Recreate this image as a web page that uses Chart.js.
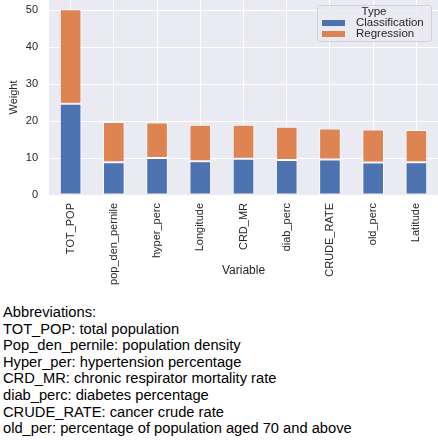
<!DOCTYPE html>
<html lang="en">
<head>
    <meta charset="UTF-8">
    <title>Variable weights</title>
    <style>
        body { margin: 0; background: #fff; }
        #wrap { position: relative; width: 438px; height: 440px; }
        #notes {
            position: absolute; left: 3px; top: 304px;
            font-family: 'Liberation Sans', Arial, sans-serif;
            font-size: 14.7px; line-height: 16.6px; color: #000;
        }
    </style>
</head>
<body>
<div id="wrap">
    <canvas id="myChart" width="438" height="285"></canvas>
    <div id="notes">
        Abbreviations:<br>
        TOT_POP: total population<br>
        Pop_den_pernile: population density<br>
        Hyper_per: hypertension percentage<br>
        CRD_MR: chronic respirator mortality rate<br>
        diab_perc: diabetes percentage<br>
        CRUDE_RATE: cancer crude rate<br>
        old_per: percentage of population aged 70 and above
    </div>
</div>

<script src="https://cdn.jsdelivr.net/npm/chart.js"></script>
<script>
    // data
    const variables = ['TOT_POP', 'pop_den_pernile', 'hyper_perc', 'Longitude', 'CRD_MR', 'diab_perc', 'CRUDE_RATE', 'old_perc', 'Latitude'];
    const classification = [24.7, 8.9, 10.05, 9.15, 9.8, 9.5, 9.6, 8.8, 8.9];
    const regression = [25.6, 10.85, 9.6, 9.85, 9.2, 9.0, 8.4, 8.95, 8.7];
    const yTicks = [0, 10, 20, 30, 40, 50];

    const narrow = "'Liberation Sans Narrow', 'Liberation Sans', Arial, sans-serif";
    const sans = "'Liberation Sans', Arial, sans-serif";

    // grey plot background (seaborn darkgrid look)
    const plotBg = {
        id: 'plotBg',
        beforeDraw(chart) {
            const {ctx, chartArea: a} = chart;
            ctx.save();
            ctx.fillStyle = '#EAEAF2';
            ctx.fillRect(a.left, a.top, a.right - a.left, a.bottom - a.top);
            ctx.restore();
        }
    };

    // legend box in the top-right corner with a "Type" title
    const typeLegend = {
        id: 'typeLegend',
        afterDraw(chart) {
            const ctx = chart.ctx;
            const x = 317, y = 5, w = 114, h = 36;
            ctx.save();
            ctx.fillStyle = 'rgba(234,234,242,0.8)';
            ctx.strokeStyle = 'rgba(204,204,204,0.8)';
            ctx.lineWidth = 1;
            ctx.beginPath();
            ctx.roundRect(x + 0.5, y + 0.5, w, h, 2);
            ctx.fill();
            ctx.stroke();
            ctx.fillStyle = '#262626';
            ctx.font = '11.5px ' + sans;
            ctx.textAlign = 'center';
            ctx.textBaseline = 'middle';
            ctx.fillText('Type', x + w / 2, y + 7);
            ctx.textAlign = 'left';
            chart.data.datasets.forEach((ds, i) => {
                const cy = y + 18 + i * 11;
                ctx.fillStyle = ds.backgroundColor;
                ctx.fillRect(x + 5, cy - 3, 23, 6);
                ctx.fillStyle = '#262626';
                ctx.fillText(ds.label, x + 39, cy);
            });
            ctx.restore();
        }
    };

    const ctx = document.getElementById('myChart');

    new Chart(ctx, {
        type: 'bar',
        data: {
            labels: variables,
            datasets: [
                {
                    label: 'Classification',
                    data: classification,
                    backgroundColor: '#4C72B0',
                    borderColor: 'rgba(255,255,255,0.8)',
                    borderWidth: 1,
                    borderSkipped: false,
                    categoryPercentage: 1,
                    barPercentage: 0.5
                },
                {
                    label: 'Regression',
                    data: regression,
                    backgroundColor: '#DD8452',
                    borderColor: 'rgba(255,255,255,0.8)',
                    borderWidth: 1,
                    borderSkipped: false,
                    categoryPercentage: 1,
                    barPercentage: 0.5
                }
            ]
        },
        options: {
            responsive: false,
            animation: false,
            devicePixelRatio: 1,
            layout: { padding: 0 },
            scales: {
                x: {
                    stacked: true,
                    grid: { color: '#fff', lineWidth: 1, offset: false, drawTicks: false },
                    border: { display: false },
                    ticks: {
                        minRotation: 90, maxRotation: 90, autoSkip: false, padding: 8,
                        color: '#262626',
                        font: { family: narrow, size: 11 }
                    },
                    title: {
                        display: true, text: 'Variable', color: '#262626',
                        font: { family: sans, size: 12 },
                        padding: { top: 0, bottom: 7 }
                    },
                    afterFit(scale) {
                        scale.height = 90;
                        scale.paddingLeft = 0;
                        scale.paddingRight = 0;
                    }
                },
                y: {
                    stacked: true,
                    min: 0,
                    max: 52.8,
                    grid: { color: '#fff', lineWidth: 1, drawTicks: false },
                    border: { display: false },
                    ticks: {
                        padding: 11, color: '#262626',
                        font: { family: sans, size: 11 }
                    },
                    afterBuildTicks(scale) {
                        scale.ticks = yTicks.map(v => ({ value: v }));
                    },
                    title: {
                        display: true, text: 'Weight', color: '#262626',
                        font: { family: narrow, size: 11 },
                        padding: { top: 7, bottom: 0 }
                    },
                    afterFit(scale) {
                        scale.width = 49;
                        scale.paddingTop = 0;
                        scale.paddingBottom = 0;
                    }
                }
            },
            plugins: {
                legend: { display: false },
                tooltip: { enabled: false }
            }
        },
        plugins: [plotBg, typeLegend]
    });
</script>
</body>
</html>
